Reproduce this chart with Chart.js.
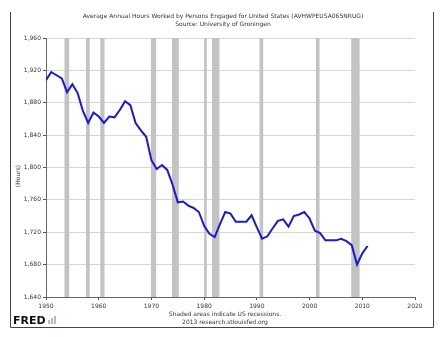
<!DOCTYPE html>
<html>
<head>
<meta charset="utf-8">
<script src="https://cdn.jsdelivr.net/npm/chart.js@4"></script>
<style>
  html, body { margin: 0; padding: 0; background: #fff; }
  #wrap { width: 440px; height: 337px; }
</style>
</head>
<body>
<div id="wrap"><canvas id="myChart" width="440" height="337"></canvas></div>
<script>
'use strict';

const years = [];
for (let y = 1950; y <= 2011; y++) years.push(y);

const hours = [
	1908, 1918, 1914, 1910, 1893, 1903, 1892, 1870, 1855, 1868,
	1863, 1855, 1863, 1862, 1871, 1882, 1877, 1855, 1846, 1838,
	1809, 1798, 1803, 1797, 1779, 1757, 1758, 1753, 1750, 1745,
	1728, 1718, 1714, 1730, 1745, 1743, 1733, 1733, 1733, 1741,
	1726, 1712, 1715, 1725, 1734, 1736, 1727, 1740, 1742, 1745,
	1737, 1722, 1719, 1710, 1710, 1710, 1712, 1709, 1704, 1680,
	1694, 1703,
];

// recession start / end (decimal years)
const recStart = [1953.5, 1957.6, 1960.3, 1969.9, 1973.9, 1980.0, 1981.5, 1990.5, 2001.2, 2007.9];
const recEnd   = [1954.4, 1958.3, 1961.1, 1970.9, 1975.2, 1980.5, 1982.9, 1991.2, 2001.9, 2009.5];

const titleLines = [
	'Average Annual Hours Worked by Persons Engaged for United States (AVHWPEUSA065NRUG)',
	'Source: University of Groningen',
];
const footerLines = ['Shaded areas indicate US recessions.', '2013 research.stlouisfed.org'];

const FONT = '"DejaVu Sans", sans-serif';

const recessions = {
	id: 'recessions',
	beforeDatasetsDraw(chart) {
		const { ctx, chartArea, scales } = chart;
		ctx.save();
		ctx.fillStyle = '#c3c3c3';
		for (let i = 0; i < recStart.length; i++) {
			const x0 = scales.x.getPixelForValue(recStart[i]);
			const x1 = scales.x.getPixelForValue(recEnd[i]);
			ctx.fillRect(x0, chartArea.top, x1 - x0, chartArea.bottom - chartArea.top);
		}
		ctx.restore();
	},
};

const decorations = {
	id: 'decorations',
	afterDraw(chart) {
		const { ctx } = chart;
		ctx.save();
		// frame
		ctx.strokeStyle = '#444';
		ctx.lineWidth = 1;
		ctx.beginPath();
		ctx.moveTo(10.5, 12);
		ctx.lineTo(10.5, 327.5);
		ctx.lineTo(433.5, 327.5);
		ctx.lineTo(433.5, 12);
		ctx.stroke();

		ctx.fillStyle = '#333';
		ctx.textAlign = 'center';
		ctx.textBaseline = 'middle';
		ctx.font = '6px ' + FONT;
		ctx.fillText(titleLines[0], 223, 16.5);
		ctx.fillText(titleLines[1], 223, 24.5);
		ctx.fillText(footerLines[0], 225, 314);
		ctx.fillText(footerLines[1], 225, 322.5);

		ctx.save();
		ctx.translate(18, 176);
		ctx.rotate(-Math.PI / 2);
		ctx.fillText('(Hours)', 0, 0);
		ctx.restore();

		// FRED logo
		ctx.textAlign = 'left';
		ctx.fillStyle = '#111';
		ctx.font = 'bold 11px ' + FONT;
		ctx.fillText('FRED', 13, 321);
		ctx.fillStyle = '#a9c4b4';
		ctx.fillRect(48, 320, 2, 4);
		ctx.fillRect(51, 318, 2, 6);
		ctx.fillRect(54, 316, 2, 8);
		ctx.restore();
	},
};

const ctx = document.getElementById('myChart').getContext('2d');

const myChart = new Chart(ctx, {
	type: 'line',
	data: {
		labels: years,
		datasets: [
			{
				data: years.map((y, i) => ({ x: y, y: hours[i] })),
				borderColor: '#1a1ad6',
				borderWidth: 2,
				pointRadius: 0,
				tension: 0,
				fill: false,
			},
		],
	},
	options: {
		responsive: false,
		animation: false,
		devicePixelRatio: 1,
		layout: {
			padding: { top: 38, right: 25, bottom: 0, left: 0 },
		},
		plugins: {
			legend: { display: false },
			tooltip: { enabled: false },
		},
		scales: {
			x: {
				type: 'linear',
				min: 1950,
				max: 2020,
				afterFit(scale) { scale.height = 40; },
				ticks: {
					stepSize: 10,
					color: '#333',
					font: { family: FONT, size: 6 },
					padding: 3,
					maxRotation: 0,
					callback: (v) => String(v),
				},
				grid: {
					drawOnChartArea: false,
					drawTicks: true,
					tickLength: 3,
					color: '#555',
				},
				border: { color: '#666', width: 1 },
			},
			y: {
				min: 1640,
				max: 1960,
				afterFit(scale) { scale.width = 46; },
				ticks: {
					stepSize: 40,
					color: '#333',
					font: { family: FONT, size: 6 },
					padding: 2,
					callback: (v) => v.toLocaleString('en-US'),
				},
				grid: {
					color: '#d6d6d6',
					tickLength: 3,
					tickColor: '#555',
				},
				border: { color: '#666', width: 1 },
			},
		},
	},
	plugins: [recessions, decorations],
});
</script>
</body>
</html>
